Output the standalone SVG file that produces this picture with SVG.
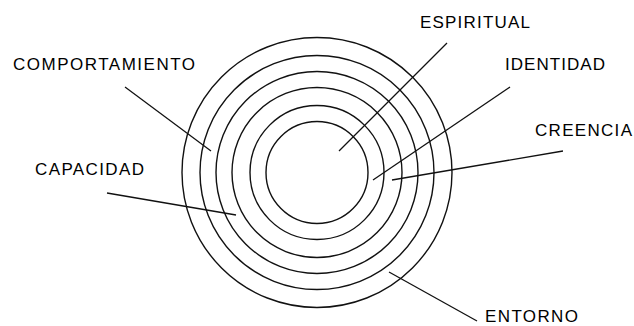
<svg xmlns="http://www.w3.org/2000/svg" width="634" height="326" viewBox="0 0 634 326">
<style>
.ring{fill:none;stroke:#111;stroke-width:1.4}
.ln{stroke:#111;stroke-width:1.3;fill:none}
.lbl{font-family:"Liberation Sans",Arial,sans-serif;font-size:17px;fill:#000}
</style>
<rect width="634" height="326" fill="#fff"/>
<g id="rings">
<g id="ring-entorno"><circle class="ring" cx="317" cy="172.5" r="135"/></g>
<g id="ring-comportamiento"><circle class="ring" cx="317" cy="172.5" r="117"/></g>
<g id="ring-capacidad"><circle class="ring" cx="317" cy="172.5" r="101"/></g>
<g id="ring-creencia"><circle class="ring" cx="317" cy="172.5" r="85"/></g>
<g id="ring-identidad"><circle class="ring" cx="317" cy="172.5" r="67"/></g>
<g id="ring-espiritual"><circle class="ring" cx="317" cy="172.5" r="51"/></g>
</g>
<g id="connectors">
<line class="ln" x1="447" y1="43" x2="339" y2="151"/>
<line class="ln" x1="510" y1="87" x2="373" y2="180"/>
<line class="ln" x1="563" y1="151" x2="392" y2="180"/>
<line class="ln" x1="125" y1="87" x2="211" y2="151"/>
<line class="ln" x1="107" y1="193" x2="236" y2="215"/>
<line class="ln" x1="389" y1="272" x2="477" y2="321"/>
</g>
<g id="label-espiritual"><text class="lbl" x="420" y="28" textLength="110" lengthAdjust="spacing">ESPIRITUAL</text></g>
<g id="label-identidad"><text class="lbl" x="505" y="70" textLength="100" lengthAdjust="spacing">IDENTIDAD</text></g>
<g id="label-creencia"><text class="lbl" x="535" y="136" textLength="97" lengthAdjust="spacing">CREENCIA</text></g>
<g id="label-comportamiento"><text class="lbl" x="13" y="70" textLength="182" lengthAdjust="spacing">COMPORTAMIENTO</text></g>
<g id="label-capacidad"><text class="lbl" x="35" y="175" textLength="109" lengthAdjust="spacing">CAPACIDAD</text></g>
<g id="label-entorno"><text class="lbl" x="485" y="322" textLength="93" lengthAdjust="spacing">ENTORNO</text></g>
</svg>
